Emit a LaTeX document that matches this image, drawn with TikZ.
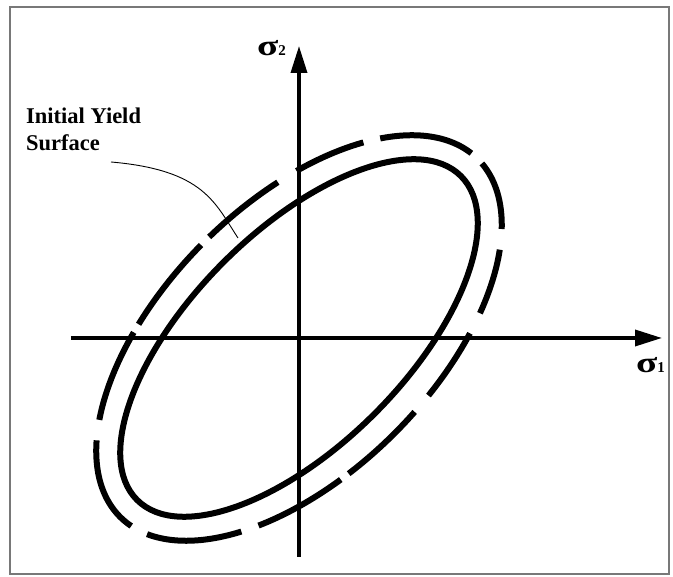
\documentclass[tikz,border=0pt]{standalone}
\usepackage{fontspec}
\usepackage{graphicx}
\setmainfont{Liberation Serif}
\usetikzlibrary{arrows.meta}
\newcommand{\bigsig}{\scalebox{1.35}[1]{\fontsize{29}{29}\selectfont σ}}
\begin{document}
\begin{tikzpicture}[x=1pt,y=1pt,
  axisline/.style={line width=3.5pt,-{Triangle[length=27pt,width=16pt]}},
  innerell/.style={line width=6pt},
  outerell/.style={line width=6pt,line cap=butt},
  frameline/.style={line width=1.5pt,draw={rgb,255:red,120;green,120;blue,120}},
  lbl/.style={font=\bfseries,inner sep=0pt},
  leader/.style={line width=0.9pt}]
\useasboundingbox (-299,-239) rectangle (374,338);
\draw[frameline] (-289,-236) rectangle (370,331);
% inner (initial) yield surface
\draw[innerell,rotate=45] (0,0) ellipse (229 and 107);
% outer (subsequent) yield surface, dashed
\foreach \s/\e in {3.7/38.3,43.4/62.6,67.9/88.2,90.8/114.2,116.5/141.9,148.4/186.1,193.4/225.4,230.4/253.8,256.1/276.7,281.6/299.4,305.1/323.9,330.6/357.5}
  \draw[outerell,rotate=45] plot[domain=\s:\e,samples=40,smooth] ({253*cos(\x)},{135*sin(\x)});
% axes
\coordinate (xstart) at (-228,0);
\coordinate (xend) at (363,0);
\coordinate (ystart) at (0,-219);
\coordinate (yend) at (0,292);
\draw[axisline] (xstart) -- (xend);
\draw[axisline] (ystart) -- (yend);
\node[lbl,anchor=base west] (s1) at (337,-35) {\bigsig{\fontsize{15}{15}\selectfont 1}};
\node[lbl,anchor=base west] (s2) at (-42,282) {\bigsig{\fontsize{15}{15}\selectfont 2}};
% label with leader
\node[lbl,anchor=base west,align=left,font=\bfseries\fontsize{22.5}{27}\selectfont] (iys) at (-273,187) {Initial Yield\\Surface};
\coordinate (lstart) at (-188,176);
\coordinate (ltip) at (-61,100);
\draw[leader] (lstart) .. controls (-95,168) and (-84,135) .. (ltip);
\end{tikzpicture}
\end{document}
